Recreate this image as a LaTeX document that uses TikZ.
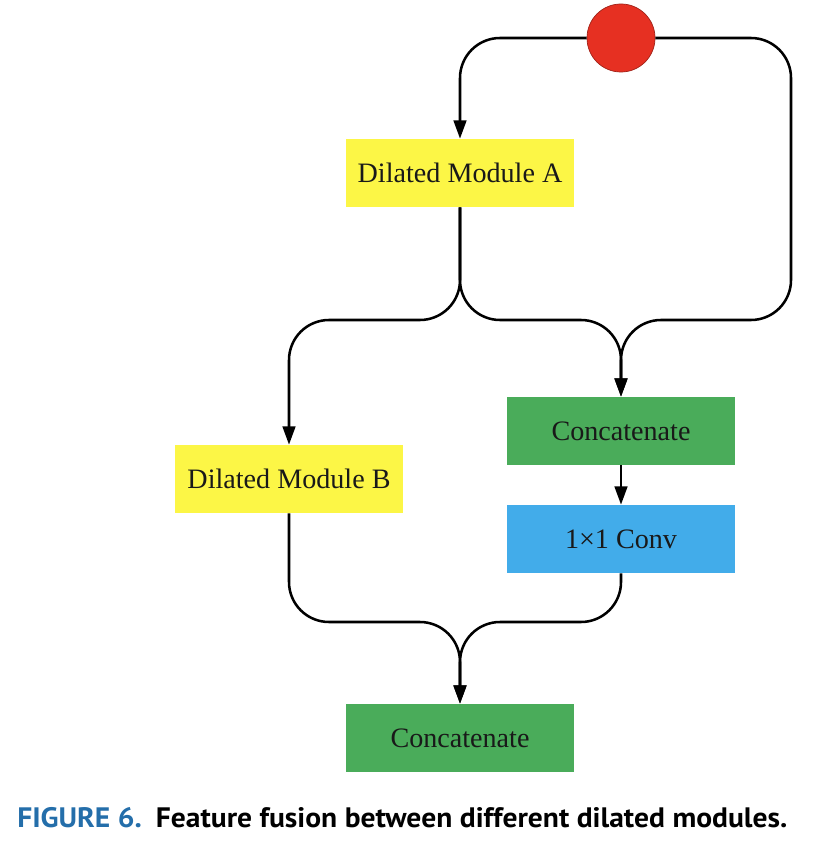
\documentclass[tikz,border=0pt]{standalone}
\usepackage{fontspec}
\setmainfont{Liberation Serif}
\newfontfamily\capfont[FakeStretch=1.05]{PT Sans}
\usepackage{tikz}
\usetikzlibrary{arrows.meta,positioning,calc}
\usepackage{xcolor}
\definecolor{modyel}{RGB}{252,246,70}
\definecolor{catg}{RGB}{74,172,90}
\definecolor{convb}{RGB}{66,172,234}
\definecolor{dotr}{RGB}{230,48,34}
\definecolor{capb}{RGB}{36,110,170}

\begin{document}
\begin{tikzpicture}[x=0.025cm, y=-0.025cm,
    box/.style={minimum width=5.7cm, minimum height=1.7cm, inner sep=0pt,
      font=\fontsize{20}{24}\selectfont, text=black!90},
    flow/.style={line width=1.8pt, rounded corners=1cm,
      -{Triangle[length=13pt, width=9pt]}}]
  \useasboundingbox (0,0) rectangle (816,866);
  % input and modules
  \node[circle, fill=dotr, draw=dotr!70!black, line width=0.5pt, minimum size=1.7cm] (dot) at (621,38) {};
  \node[box, fill=modyel] (ma) at (460,173) {Dilated Module A};
  \node[box, fill=modyel] (mb) at (289,479) {Dilated Module B};
  \node[box, fill=catg] (c1) at (621,431) {Concatenate};
  \node[box, fill=convb] (conv) at (621,539) {1×1 Conv};
  \node[box, fill=catg] (c2) at (460,738) {Concatenate};
  % routing points
  \coordinate (loop) at (791,320);
  \coordinate (splitA) at (460,320);
  \coordinate (joinB) at (289,622);
  \coordinate (joinC) at (621,622);
  % links
  \draw[flow] (dot.west) -| (ma.north);
  \draw[flow] (dot.east) -| (loop) -| (c1.north);
  \draw[flow] (ma.south) -- (splitA) -| (mb.north);
  \draw[flow] (ma.south) -- (splitA) -| (c1.north);
  \draw[flow] (c1.south) -- (conv.north);
  \draw[flow] (mb.south) -- (joinB) -| (c2.north);
  \draw[flow] (conv.south) -- (joinC) -| (c2.north);
  % caption
  \node[anchor=base west, inner sep=0pt, font=\capfont\bfseries\fontsize{20}{24}\selectfont] (cap) at (17,827)
    {\textcolor{capb}{FIGURE 6.}\hspace{0.5em}Feature fusion between different dilated modules.};
\end{tikzpicture}
\end{document}
